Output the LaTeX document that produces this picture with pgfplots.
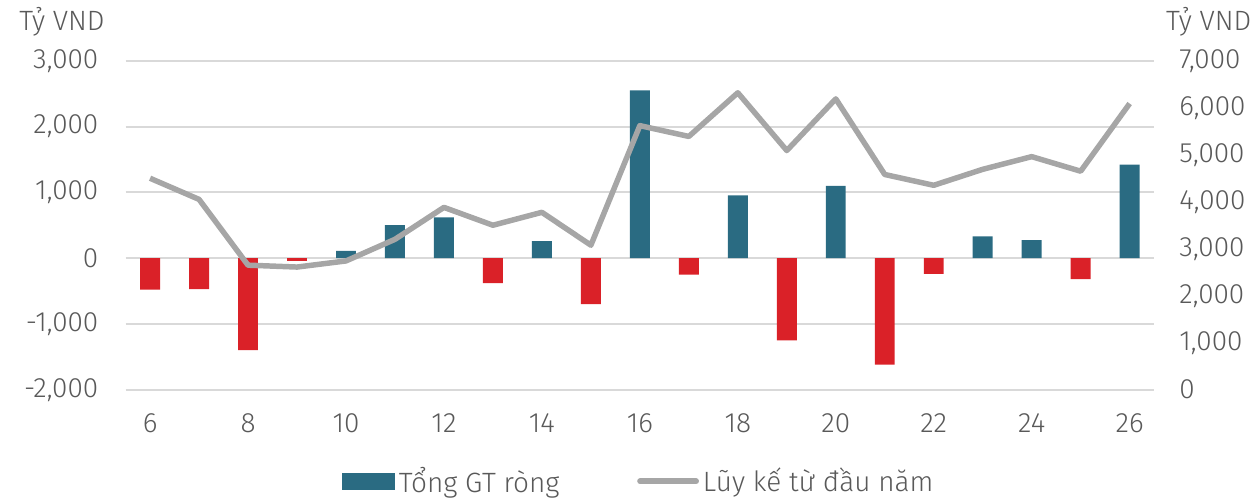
\documentclass[border=0pt]{standalone}
\usepackage{fontspec}
\setmainfont{Fira Sans}[UprightFont={* Light}]
\usepackage{pgfplots}
\pgfplotsset{compat=1.18}

\definecolor{barblue}{HTML}{2A6B82}
\definecolor{barred}{HTML}{DA2128}
\definecolor{linegray}{HTML}{A6A6A6}
\definecolor{txtgray}{HTML}{595959}
\definecolor{gridgray}{HTML}{D9D9D9}

\pgfplotsset{
  base/.style={
    scale only axis, width=516pt, height=165pt,
    xmin=5.5, xmax=26.5,
    axis line style={draw=none},
    tick style={draw=none},
    major tick length=0pt,
    ticklabel style={text=txtgray, inner sep=0pt},
    /pgf/number format/1000 sep={,},
    /pgf/number format/assume math mode=true,
    clip=false,
  }
}

\begin{document}
\begin{tikzpicture}[font=\fontsize{14}{16}\selectfont]
\begin{axis}[base, name=main,
    ymin=-2000, ymax=3000, ytick={-2000,-1000,...,3000},
    ymajorgrids, grid style={gridgray, line width=1pt},
    xtick={6,8,...,26},
    xticklabel style={anchor=north, yshift=-12pt},
    yticklabel style={anchor=east, xshift=-13.5pt},
    ybar, bar width=10pt, bar shift=0pt,
]
\addplot[fill=barblue, draw=none] coordinates {
  (10,110) (11,500) (12,620) (14,260) (16,2550) (18,955) (20,1100)
  (23,330) (24,275) (26,1420)
};
\addplot[fill=barred, draw=none] coordinates {
  (6,-480) (7,-470) (8,-1400) (9,-40) (13,-380) (15,-700) (17,-250)
  (19,-1250) (21,-1620) (22,-240) (25,-320)
};
\node[anchor=base east, xshift=-7pt, yshift=15pt, text=txtgray] at (rel axis cs:0,1) {Tỷ VND};
\node[anchor=base west, xshift=2.5pt, yshift=15pt, text=txtgray] at (rel axis cs:1,1) {Tỷ VND};
\end{axis}

\begin{axis}[base,
    axis y line*=right, axis x line=none,
    ymin=0, ymax=7000, ytick={0,1000,...,7000},
    yticklabel style={anchor=west, xshift=12.5pt},
    legend columns=2,
    legend style={at={(0.5,0)}, anchor=center, yshift=-46pt, draw=none,
      text=txtgray, font=\fontsize{14}{16}\selectfont,
      /tikz/every even column/.append style={column sep=37pt}},
]
\addlegendimage{legend image code/.code={\fill[barblue] (0pt,-4pt) rectangle (26pt,4pt);}}
\addlegendentry{Tổng GT ròng}
\addplot[linegray, line width=2.75pt, line join=round,
  legend image code/.code={\draw[linegray, line width=3pt, line cap=round] (0pt,0pt) -- (28pt,0pt);}]
  coordinates {
  (6,4500) (7,4050) (8,2650) (9,2610) (10,2740) (11,3200) (12,3880)
  (13,3500) (14,3775) (15,3075) (16,5620) (17,5390) (18,6320) (19,5090)
  (20,6190) (21,4580) (22,4350) (23,4690) (24,4960) (25,4650) (26,6090)
};
\addlegendentry{Lũy kế từ đầu năm}
\end{axis}

\path (main.south west) ++(-63pt,-53pt) rectangle ([shift={(50pt,30.5pt)}]main.north east);
\end{tikzpicture}
\end{document}
